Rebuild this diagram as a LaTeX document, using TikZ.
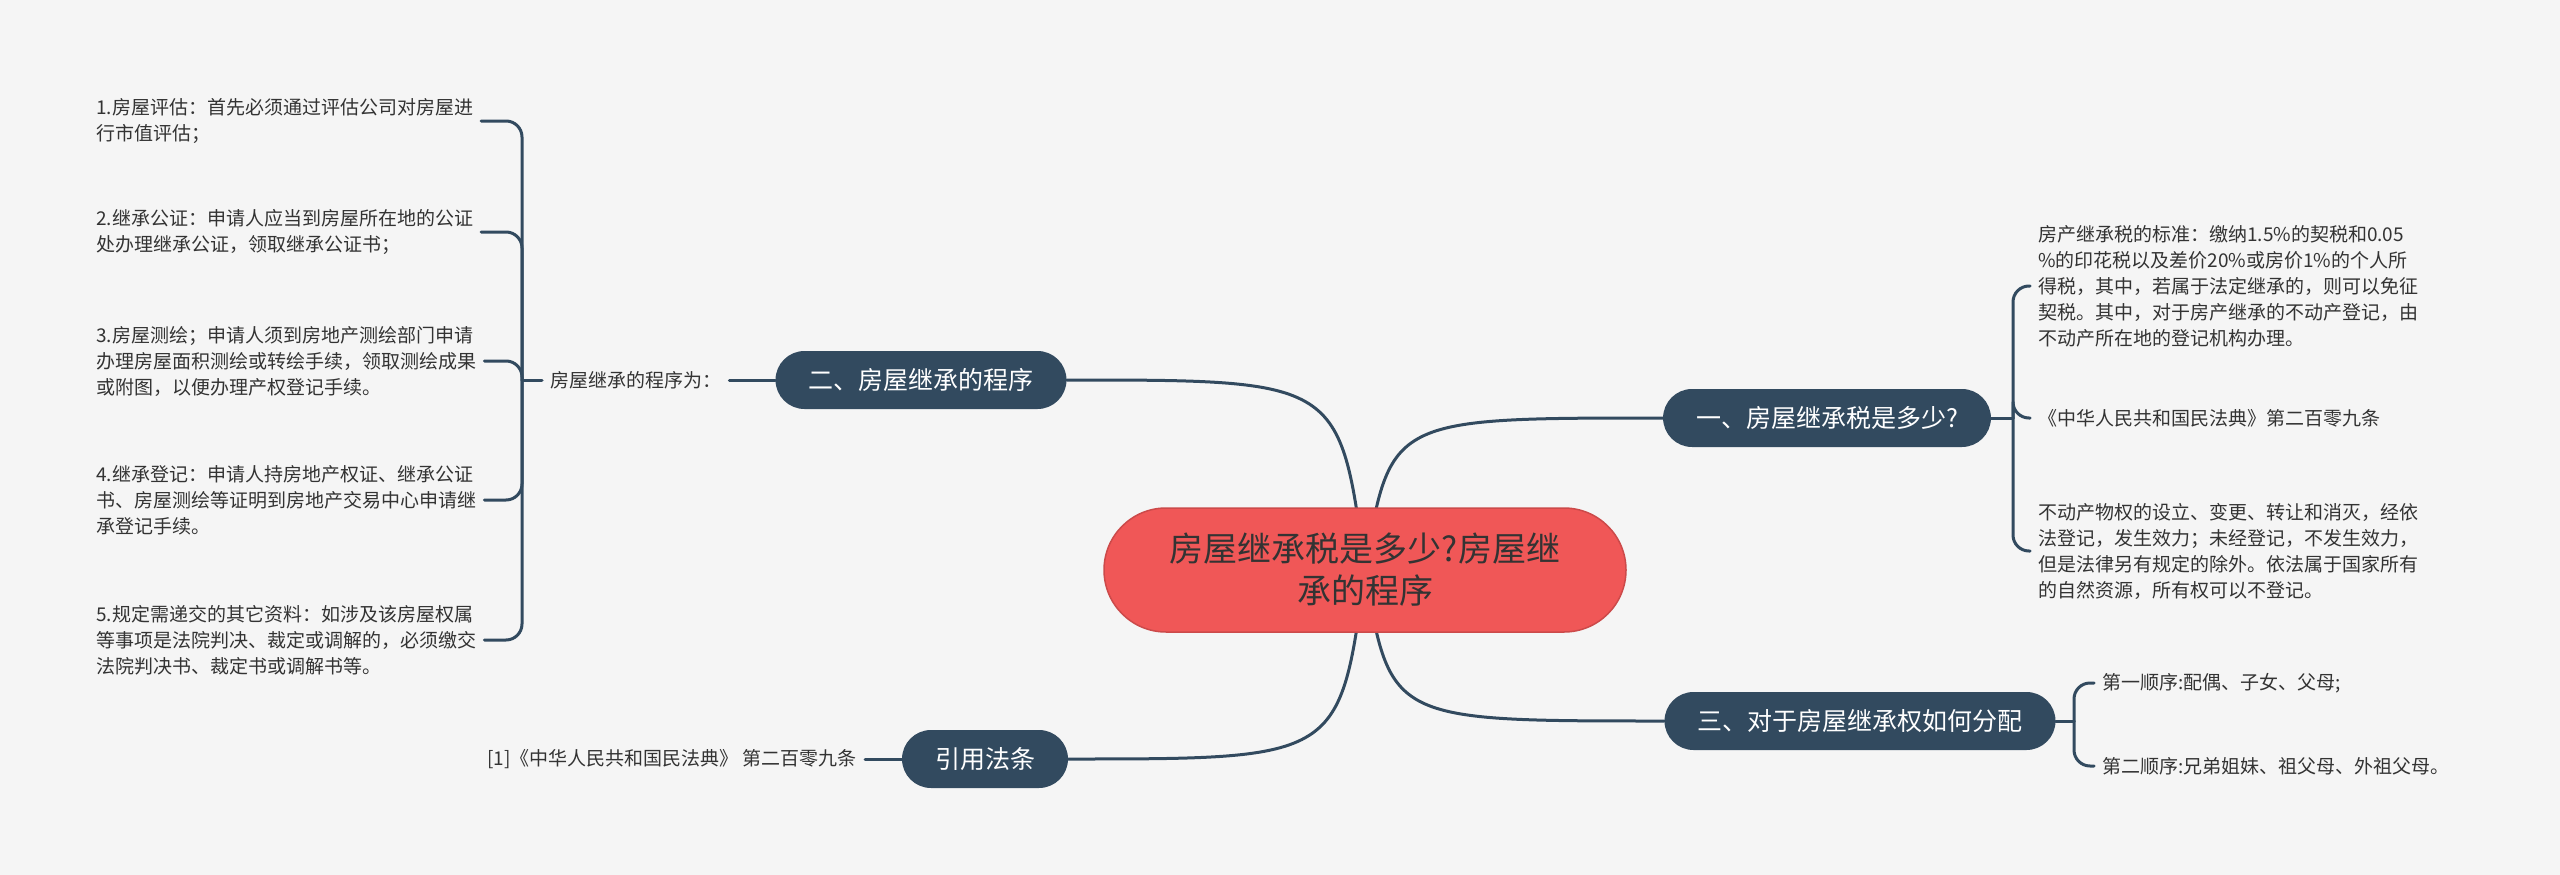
\documentclass[tikz,border=0pt]{standalone}
\usepackage{fontspec}
\newfontfamily\cjk{Noto Sans CJK SC}
\definecolor{paper}{HTML}{F5F5F5}
\definecolor{navy}{HTML}{324A5F}
\definecolor{rootred}{HTML}{F05757}
\definecolor{ink}{HTML}{333333}
\tikzset{
  root/.style={fill=rootred, draw=rootred!85!black, line width=1.5pt, rounded corners=62pt,
    minimum height=124pt, minimum width=522pt, align=center, text=ink,
    font=\cjk\fontsize{34}{42}\selectfont},
  branch/.style={fill=navy, text=white, rounded corners=29pt, minimum height=58pt,
    inner xsep=33pt, font=\cjk\fontsize{25}{30}\selectfont},
  leaf/.style={inner xsep=8pt, inner ysep=0pt, align=left, text=ink,
    font=\cjk\fontsize{19}{26}\selectfont},
  link/.style={draw=navy, line width=3pt},
  fork/.style={draw=navy, line width=3pt, rounded corners=16pt}
}
\begin{document}
\begin{tikzpicture}[x=1pt, y=-1pt, line cap=round, line join=round]
	\fill[paper] (0,0) rectangle (2560,875);
	\useasboundingbox (0,0) rectangle (2560,875);
	\coordinate (c) at (1365,570);
	\node[branch] (n1) at (1827,418) {一、房屋继承税是多少?};
	\node[branch] (n2) at (921,380) {二、房屋继承的程序};
	\node[branch] (n3) at (1860,721) {三、对于房屋继承权如何分配};
	\node[branch] (n4) at (985,759) {引用法条};
	\draw[link] (c) .. controls (1390,418) .. (n1.west);
	\draw[link] (c) .. controls (1340,380) .. (n2.east);
	\draw[link] (c) .. controls (1390,721) .. (n3.west);
	\draw[link] (c) .. controls (1340,759) .. (n4.east);
	\node[root] (rt) at (c) {房屋继承税是多少?房屋继\\承的程序};
	% 二
	\node[leaf, anchor=west] (proc) at (542,380) {房屋继承的程序为：};
	\coordinate (j2) at (522,380);
	\node[leaf, anchor=west] (s1) at (88,121) {1.房屋评估：首先必须通过评估公司对房屋进\\行市值评估；};
	\node[leaf, anchor=west] (s2) at (88,232) {2.继承公证：申请人应当到房屋所在地的公证\\处办理继承公证，领取继承公证书；};
	\node[leaf, anchor=west] (s3) at (88,361) {3.房屋测绘；申请人须到房地产测绘部门申请\\办理房屋面积测绘或转绘手续，领取测绘成果\\或附图，以便办理产权登记手续。};
	\node[leaf, anchor=west] (s4) at (88,500) {4.继承登记：申请人持房地产权证、继承公证\\书、房屋测绘等证明到房地产交易中心申请继\\承登记手续。};
	\node[leaf, anchor=west] (s5) at (88,640) {5.规定需递交的其它资料：如涉及该房屋权属\\等事项是法院判决、裁定或调解的，必须缴交\\法院判决书、裁定书或调解书等。};
	\draw[link] (n2.west) -- (proc.east);
	\draw[link] (proc.west) -- (j2);
	\foreach \s in {s1,s2,s3,s4,s5}
		\draw[fork] (j2) |- (\s.east);
	% 一
	\coordinate (j1) at (2013,418);
	\node[leaf, anchor=west] (t1) at (2030,286) {房产继承税的标准：缴纳1.5\%的契税和0.05\\\%的印花税以及差价20\%或房价1\%的个人所\\得税，其中，若属于法定继承的，则可以免征\\契税。其中，对于房产继承的不动产登记，由\\不动产所在地的登记机构办理。};
	\node[leaf, anchor=west] (t2) at (2030,418) {《中华人民共和国民法典》第二百零九条};
	\node[leaf, anchor=west] (t3) at (2030,551) {不动产物权的设立、变更、转让和消灭，经依\\法登记，发生效力；未经登记，不发生效力，\\但是法律另有规定的除外。依法属于国家所有\\的自然资源，所有权可以不登记。};
	\draw[link] (n1.east) -- (j1);
	\foreach \t in {t1,t2,t3}
		\draw[fork] (j1) |- (\t.west);
	% 三
	\coordinate (j3) at (2074,721);
	\node[leaf, anchor=west] (u1) at (2094,683) {第一顺序:配偶、子女、父母;};
	\node[leaf, anchor=west] (u2) at (2094,766) {第二顺序:兄弟姐妹、祖父母、外祖父母。};
	\draw[link] (n3.east) -- (j3);
	\foreach \u in {u1,u2}
		\draw[fork] (j3) |- (\u.west);
	% 引用
	\node[leaf, anchor=east] (cite) at (865,759) {[1]《中华人民共和国民法典》 第二百零九条};
	\draw[link] (n4.west) -- (cite.east);
\end{tikzpicture}
\end{document}
